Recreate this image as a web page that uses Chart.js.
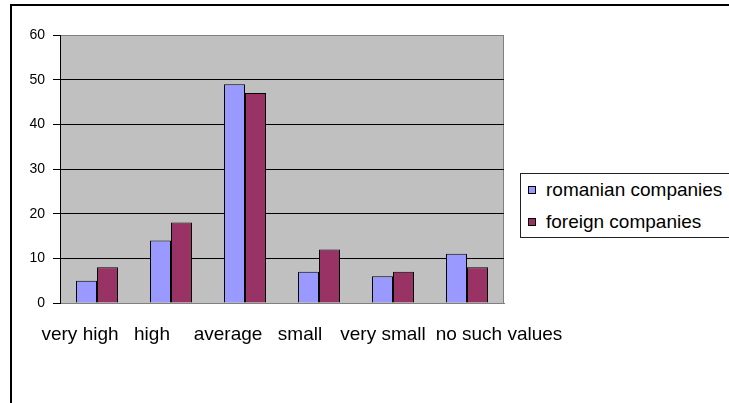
<!DOCTYPE html>
<html>
<head>
<meta charset="utf-8">
<script src="https://cdn.jsdelivr.net/npm/chart.js@4"></script>
<style>
  html, body { margin: 0; padding: 0; width: 729px; height: 403px; overflow: hidden; background: #fff; }
  #frame { position: absolute; left: 10px; top: 4px; width: 760px; height: 440px; border: 2px solid #000; }
  #wrap { position: absolute; left: 0; top: 0; width: 729px; height: 403px; }
  #legend { position: absolute; left: 520px; top: 173px; width: 240px; height: 63px; border: 1px solid #222; background: #fff;
            font-family: "Liberation Sans", Arial, sans-serif; font-size: 19px; color: #000; }
  #legend .row { display: flex; align-items: center; height: 32px; }
  #legend .box { width: 6px; height: 6px; border: 1px solid #000; margin-left: 7px; margin-right: 10px; }
</style>
</head>
<body>
<div id="frame"></div>
<div id="wrap"><canvas id="chart" width="729" height="403"></canvas></div>
<div id="legend"></div>
<script>
// Chart values
const categories = ["very high", "high", "average", "small", "very small", "no such values"];
const seriesNames = ["romanian companies", "foreign companies"];
const romanianValues = [5, 14, 49, 7, 6, 11];
const foreignValues = [8, 18, 47, 12, 7, 8];
const yMin = 0, yMax = 60, yStep = 10;

// the category labels sit a bit off their bars in the original
const labelShift = [-17, -19, -17, -19, -10, 32];

const FONT = '"Liberation Sans", Arial, sans-serif';

// gray plot area with a thin border
const plotBackground = {
  id: "plotBackground",
  beforeDraw(chart) {
    const { ctx, chartArea: a } = chart;
    ctx.save();
    ctx.fillStyle = "#C0C0C0";
    ctx.fillRect(a.left, a.top, a.right - a.left, a.bottom - a.top);
    ctx.strokeStyle = "#808080";
    ctx.lineWidth = 1;
    ctx.strokeRect(a.left + 0.5, a.top + 0.5, a.right - a.left - 1, a.bottom - a.top);
    ctx.restore();
  }
};

// category labels drawn under the axis
const categoryLabels = {
  id: "categoryLabels",
  afterDraw(chart) {
    const { ctx, scales } = chart;
    ctx.save();
    ctx.font = "19px " + FONT;
    ctx.fillStyle = "#000";
    ctx.textAlign = "center";
    ctx.textBaseline = "alphabetic";
    chart.data.labels.forEach(function (label, i) {
      const x = scales.x.getPixelForValue(i) + labelShift[i];
      ctx.fillText(label, x, scales.x.top + 37);
    });
    ctx.restore();
  }
};

// html legend built from the datasets
const htmlLegend = {
  id: "htmlLegend",
  afterUpdate(chart) {
    const el = document.getElementById("legend");
    el.innerHTML = "";
    chart.data.datasets.forEach(function (ds) {
      const row = document.createElement("div");
      row.className = "row";
      const box = document.createElement("span");
      box.className = "box";
      box.style.background = ds.backgroundColor;
      const txt = document.createElement("span");
      txt.textContent = ds.label;
      row.appendChild(box);
      row.appendChild(txt);
      el.appendChild(row);
    });
  }
};

const ctx = document.getElementById("chart").getContext("2d");
const myChart = new Chart(ctx, {
  type: "bar",
  data: {
    labels: categories,
    datasets: [{
      label: seriesNames[0],
      data: romanianValues,
      backgroundColor: "#9999FF",
      borderColor: "#000",
      borderWidth: 1,
    }, {
      label: seriesNames[1],
      data: foreignValues,
      backgroundColor: "#993366",
      borderColor: "#000",
      borderWidth: 1,
    }],
  },
  options: {
    responsive: false,
    animation: false,
    datasets: {
      bar: { categoryPercentage: 0.5676, barPercentage: 1.0, borderSkipped: "bottom" }
    },
    layout: { padding: { top: 35, right: 225, bottom: 0, left: 0 } },
    plugins: {
      legend: { display: false },
      tooltip: { enabled: false },
    },
    scales: {
      x: {
        grid: { display: false },
        ticks: { display: false },
        border: { display: true, color: "#808080", width: 1 },
        afterFit: function (scale) { scale.height = 100; },
      },
      y: {
        min: yMin,
        max: yMax,
        ticks: {
          stepSize: yStep,
          color: "#000",
          font: { family: FONT, size: 14 },
          padding: 8,
        },
        grid: {
          color: function (c) {
            return c.tick && c.tick.value > yMin && c.tick.value < yMax ? "#000" : "rgba(0,0,0,0)";
          },
          tickColor: "#000",
          tickLength: 7,
          lineWidth: 1,
        },
        border: { display: true, color: "#000", width: 1 },
        afterFit: function (scale) { scale.width = 60; },
      },
    },
  },
  plugins: [plotBackground, categoryLabels, htmlLegend],
});
</script>
</body>
</html>
